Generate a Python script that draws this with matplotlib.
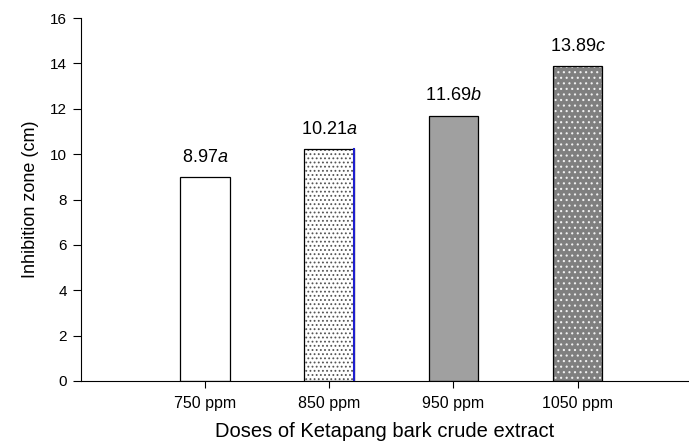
import numpy as np
import matplotlib.pyplot as plt

plt.rcParams['font.family'] = ['Liberation Sans', 'DejaVu Sans']
plt.rcParams['mathtext.fontset'] = 'custom'
plt.rcParams['mathtext.rm'] = 'Liberation Sans'
plt.rcParams['mathtext.it'] = 'Liberation Sans:italic'
plt.rcParams['hatch.linewidth'] = 0.8

# Dados
doses = ['750 ppm', '850 ppm', '950 ppm', '1050 ppm']
zona = [8.97, 10.21, 11.69, 13.89]
letras = ['a', 'a', 'b', 'c']

fig = plt.figure(figsize=(6.89, 4.42), dpi=100)
ax = fig.add_axes([81 / 689, 1 - 381 / 442, (688 - 81) / 689, 363 / 442])

x = np.arange(len(doses))
w = 0.4

# barras: preenchimento + hachura
faces = ['white', 'white', '#a0a0a0', '#7f7f7f']
hatch = [None, '....', None, '...']
hcol = ['black', '#555555', 'black', '#f0f0f0']
for i in range(len(doses)):
    ax.bar(x[i], zona[i], w, color=faces[i], hatch=hatch[i], edgecolor=hcol[i],
           linewidth=0, zorder=2)
    ax.bar(x[i], zona[i], w, fill=False, edgecolor='black', linewidth=0.9, zorder=3)
# borda azul da segunda barra
ax.plot([x[1] + w / 2] * 2, [0, zona[1]], color='#1f1fcf', lw=1.5, zorder=4)

for i in range(len(doses)):
    ax.text(x[i], zona[i] + 0.5, f'{zona[i]:.2f}' + r'$\it{' + letras[i] + '}$',
            ha='center', va='bottom', fontsize=13, color='black')

ax.set_xlim(-1.0, 3.89)
ax.set_ylim(0, 16)
ax.set_yticks(np.arange(0, 17, 2))
ax.set_xticks(x)
ax.set_xticklabels(doses, fontsize=11.5)
ax.tick_params(axis='y', labelsize=11, length=6, width=0.8, pad=4)
ax.tick_params(axis='x', length=5, width=0.8, pad=6)
ax.spines['top'].set_visible(False)
ax.spines['right'].set_visible(False)
ax.set_ylabel('Inhibition zone (cm)', fontsize=13, labelpad=8)
ax.set_xlabel('Doses of Ketapang bark crude extract', fontsize=14.5, labelpad=8)

fig.savefig('out.png', dpi=100)
